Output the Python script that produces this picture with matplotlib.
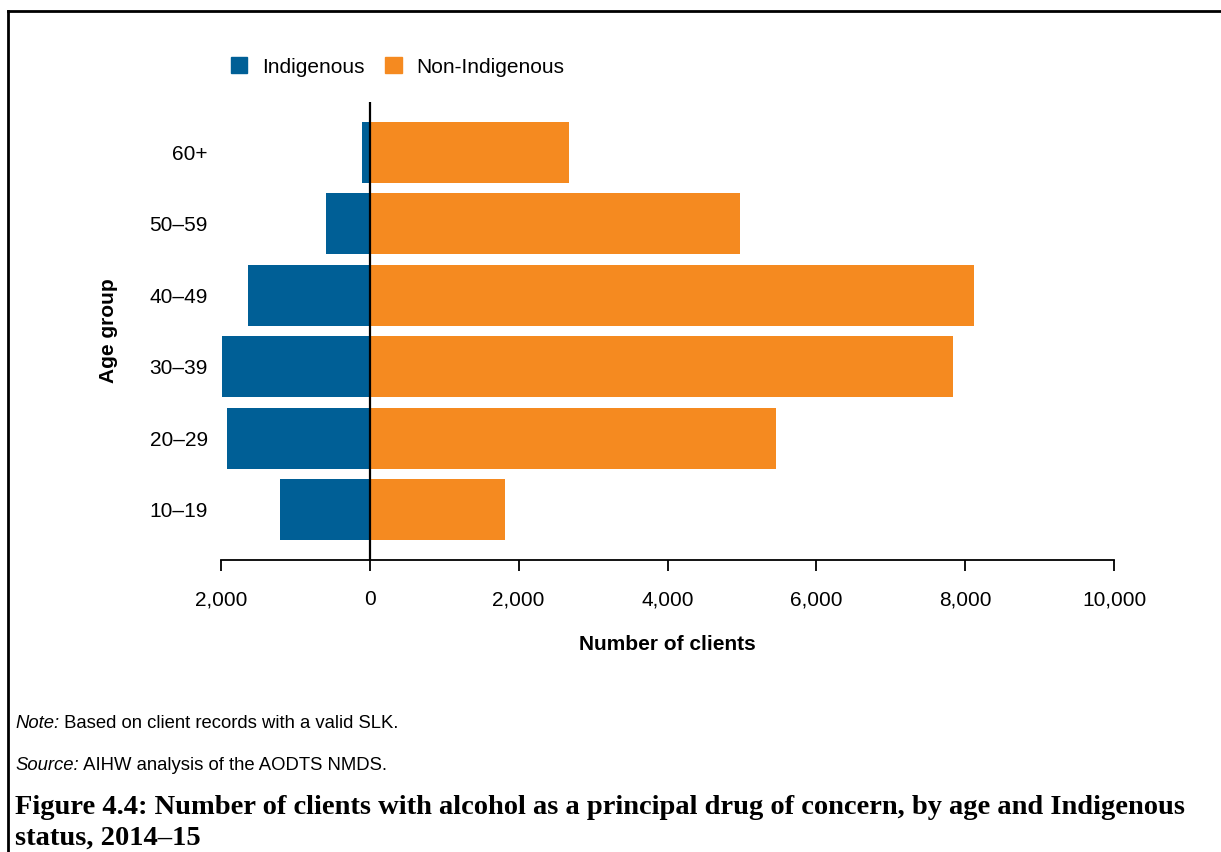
import matplotlib
matplotlib.use("Agg")
import matplotlib.pyplot as plt
from matplotlib.patches import Patch
from matplotlib.lines import Line2D

plt.rcParams['font.family'] = ['Liberation Sans', 'DejaVu Sans']

age_groups = ["10–19", "20–29", "30–39", "40–49", "50–59", "60+"]
indigenous = [1210, 1920, 1990, 1640, 590, 110]
non_indigenous = [1810, 5460, 7840, 8120, 4980, 2670]
xticks = [-2000, 0, 2000, 4000, 6000, 8000, 10000]
xtick_labels = ["2,000", "0", "2,000", "4,000", "6,000", "8,000", "10,000"]

blue = "#005f96"
orange = "#f58a20"

W, H = 1221, 852
fig = plt.figure(figsize=(W / 100, H / 100), dpi=100)
ax = fig.add_axes([221 / W, 1 - 560 / H, (1114 - 221) / W, (560 - 102) / H])

ypos = list(range(len(age_groups)))
ax.barh(ypos, [-v for v in indigenous], height=0.85, color=blue)
ax.barh(ypos, non_indigenous, height=0.85, color=orange)
ax.axvline(0, color="black", lw=1.6)

ax.set_xlim(-2000, 10000)
ax.set_ylim(-0.70, 5.70)
for s in ["top", "right", "left"]:
    ax.spines[s].set_visible(False)
ax.spines["bottom"].set_linewidth(1.3)
ax.set_xticks(xticks)
ax.set_xticklabels(xtick_labels, fontsize=15)
ax.tick_params(axis="x", length=8, width=1.3, pad=13.6)
ax.set_yticks(ypos)
ax.set_yticklabels(age_groups, fontsize=15)
ax.tick_params(axis="y", length=0, pad=9.4)
ax.set_xlabel("Number of clients", fontsize=15, fontweight="bold", labelpad=18.5)
ax.set_ylabel("Age group", fontsize=15, fontweight="bold", labelpad=22.6)

handles = [Patch(color=blue, label="Indigenous"), Patch(color=orange, label="Non-Indigenous")]
fig.legend(handles=handles, loc="center left", bbox_to_anchor=(212 / W, 1 - 67 / H),
           ncol=2, frameon=False, fontsize=15, handlelength=0.8, handleheight=0.8,
           handletextpad=0.7, columnspacing=1.0)

# notes
n1 = fig.text(15 / W, 1 - 723 / H, "Note:", fontsize=13.3, style="italic", va="center")
ax.annotate(" Based on client records with a valid SLK.", xy=(1, 0.5), xycoords=n1,
            va="center", ha="left", fontsize=13.3, annotation_clip=False)
n2 = fig.text(15 / W, 1 - 766 / H, "Source:", fontsize=13.3, style="italic", va="center")
ax.annotate(" AIHW analysis of the AODTS NMDS.", xy=(1, 0.5), xycoords=n2,
            va="center", ha="left", fontsize=13.3, annotation_clip=False)

fig.text(15 / W, 1 - 808 / H,
         "Figure 4.4: Number of clients with alcohol as a principal drug of concern, by age and Indigenous",
         family="Liberation Serif", fontweight="bold", fontsize=20.5, va="center")
fig.text(15 / W, 1 - 838 / H, "status, 2014–15",
         family="Liberation Serif", fontweight="bold", fontsize=20.5, va="center")

# border (open to the right and bottom)
fig.add_artist(Line2D([8 / W, 1], [1 - 11 / H, 1 - 11 / H], color="black", lw=2,
                      transform=fig.transFigure))
fig.add_artist(Line2D([8 / W, 8 / W], [1 - 11 / H, 0], color="black", lw=2,
                      transform=fig.transFigure))

fig.savefig("out.png", dpi=100)
